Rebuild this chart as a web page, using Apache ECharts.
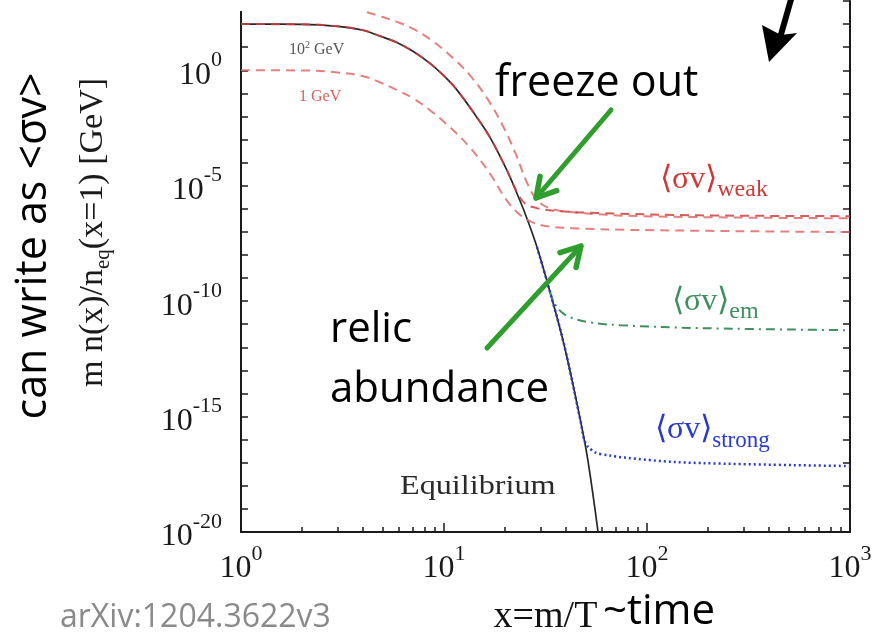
<!DOCTYPE html>
<html><head><meta charset="utf-8">
<script src="https://cdn.jsdelivr.net/npm/echarts@6/dist/echarts.min.js"></script>
<style>html,body{margin:0;padding:0;background:#fff}#c{width:875px;height:636px}</style>
</head><body><div id="c"></div>
<script>
// ---- tick values ----
const xMajorTicks = [1, 10, 100, 1000];
const xMinorTicks = [2,3,4,5,6,7,8,9,20,30,40,50,60,70,80,90,200,300,400,500,600,700,800,900];
const yTicks = [1e-20,1e-19,1e-18,1e-17,1e-16,1e-15,1e-14,1e-13,1e-12,1e-11,1e-10,1e-9,1e-8,1e-7,1e-6,1e-5,1e-4,1e-3,1e-2,1e-1,1,10,100,1000];
const yLabelTicks = [1e-20, 1e-15, 1e-10, 1e-5, 1];

// ---- series values [x, m n(x)/n_eq(x=1)] ----
const equilibrium = [[1,100],[2,98],[3,80],[4,54],[4.84,30],[5.86,16],[7.03,6.6],[8.53,2.0],[10,0.57],[11.6,0.138],[14.5,9.3e-3],[16.9,1.17e-3],[20.4,4.7e-5],[23.6,2.4e-6],[25.6,3.9e-7],[28.7,2.2e-8],[33.2,2.7e-10],[39.3,1.0e-12],[47.3,5.2e-16],[51.2,1.2e-17],[57.4,1e-20]];
const weak1GeV = [[1,1],[2,0.98],[3,0.8],[4,0.55],[4.84,0.3],[5.86,0.14],[7.03,0.062],[8.53,0.0186],[10.7,3.4e-3],[13.4,4.6e-4],[16.9,3.2e-5],[20,2.9e-6],[22.9,7.1e-7],[26.5,2.9e-7],[31.5,1.8e-7],[43.2,1.45e-7],[92.4,1.2e-7],[1000,9.8e-8]];
const weak100GeV = [[1,100],[2,98],[3,80],[4,54],[4.84,30],[5.86,16],[7.03,6.6],[8.53,2.0],[10,0.57],[11.6,0.138],[14.5,9.3e-3],[16.9,1.17e-3],[20.4,4.7e-5],[22.9,5.2e-6],[25.06,1.7e-6],[28.7,1.07e-6],[37.1,7.9e-7],[58.7,6.5e-7],[182,5.2e-7],[1000,4.8e-7]];
const weak1000GeV = [[4.17,324],[4.84,220],[5.86,125],[7.03,63],[8.53,22],[10.3,6.0],[13.4,0.61],[16.9,0.037],[20,2.5e-3],[22.4,2.8e-4],[25.6,1.4e-5],[28.7,2.4e-6],[33.2,1.07e-6],[43.2,7.1e-7],[92.4,4.8e-7],[1000,3.9e-7]];
const emCurve = [[33.2,2.7e-10],[35,8.2e-11],[38,3.3e-11],[41.8,2e-11],[52.4,1.2e-11],[73.6,9.1e-12],[182,6.8e-12],[1000,5.5e-12]];
const strongCurve = [[28.7,2.2e-8],[33.2,2.7e-10],[39.3,1.0e-12],[47.3,5.2e-16],[49.5,7.9e-17],[53.5,3.5e-17],[58.7,2.4e-17],[103.5,1.3e-17],[182,9.7e-18],[1000,7.2e-18]];

const SERIF = 'Liberation Serif';
const SANS = 'Open Sans';
const supRich = {
  b: {fontSize: 32, fontFamily: SERIF, color: '#1a1a1a', lineHeight: 32, verticalAlign: 'bottom'},
  s: {fontSize: 22, fontFamily: SERIF, color: '#1a1a1a', verticalAlign: 'top', padding: [0,0,20,0]}
};
const powFmt = v => '{b|10}{s|' + Math.round(Math.log10(v)) + '}';

const chart = echarts.init(document.getElementById('c'), null, {renderer: 'canvas'});

function arrowHead(tip, tail, len, ang) {
  const a = Math.atan2(tail[1]-tip[1], tail[0]-tip[0]);
  return [[tip[0]+len*Math.cos(a+ang), tip[1]+len*Math.sin(a+ang)], tip, [tip[0]+len*Math.cos(a-ang), tip[1]+len*Math.sin(a-ang)]];
}
const GREEN = '#2f9e2f';
const fTail = [611,110], fTip = [536,198];
const rTail = [487,348], rTip = [581,246];

const axisLineStyle = {color: '#1a1a1a', width: 2};
const tickLineStyle = {color: '#1a1a1a', width: 1.5};
const SM = 0.4;

chart.setOption({
  animation: false,
  backgroundColor: '#ffffff',
  grid: {left: 241, right: 25, top: 1, bottom: 104, containLabel: false, outerBoundsMode: 'none'},
  xAxis: [
    {type: 'log', logBase: 10, min: 1, max: 1000, position: 'bottom',
     axisLine: {show: true, onZero: false, lineStyle: axisLineStyle},
     axisTick: {show: true, inside: true, length: 9, customValues: xMajorTicks, lineStyle: tickLineStyle},
     axisLabel: {show: true, customValues: xMajorTicks, margin: 11, formatter: powFmt, rich: supRich},
     splitLine: {show: false}, minorTick: {show: false},
     name: 'x=m/T', nameLocation: 'middle', nameGap: 66,
     nameTextStyle: {fontFamily: SERIF, fontSize: 38, color: '#111'}},
    {type: 'log', logBase: 10, min: 1, max: 1000, position: 'bottom',
     axisLine: {show: false},
     axisTick: {show: true, inside: true, length: 5, customValues: xMinorTicks, lineStyle: tickLineStyle},
     axisLabel: {show: false}, splitLine: {show: false}}
  ],
  yAxis: [
    {type: 'log', logBase: 10, min: 1e-20, max: 1000, position: 'left',
     axisLine: {show: true, onZero: false, lineStyle: axisLineStyle},
     axisTick: {show: true, inside: true, length: 7, customValues: yTicks, lineStyle: tickLineStyle},
     axisLabel: {show: true, customValues: yLabelTicks, margin: 19, formatter: powFmt, rich: supRich},
     splitLine: {show: false},
     name: '{a|m n(x)/n}{sub|eq}{a|(x=1) [GeV]}', nameLocation: 'middle', nameRotate: 90, nameGap: 127,
     nameTextStyle: {padding: [0,0,0,68], rich: {
       a: {fontFamily: SERIF, fontSize: 34, color: '#1a1a1a', lineHeight: 38, verticalAlign: 'top'},
       sub: {fontFamily: SERIF, fontSize: 21, color: '#1a1a1a', verticalAlign: 'bottom'}
     }}},
    {type: 'log', logBase: 10, min: 1e-20, max: 1000, position: 'right',
     axisLine: {show: true, onZero: false, lineStyle: axisLineStyle},
     axisTick: {show: true, inside: true, length: 7, customValues: yTicks, lineStyle: tickLineStyle},
     axisLabel: {show: false}, splitLine: {show: false}}
  ],
  series: [
    {name: 'Equilibrium', type: 'line', data: equilibrium, showSymbol: false, smooth: SM,
     lineStyle: {color: '#262626', width: 1.7}, z: 2},
    {name: '1 GeV', type: 'line', data: weak1GeV, showSymbol: false, smooth: SM,
     lineStyle: {color: '#df6b68', width: 2, type: [9,6], opacity: 0.85}, z: 3},
    {name: '100 GeV', type: 'line', data: weak100GeV, showSymbol: false, smooth: SM,
     lineStyle: {color: '#cf3f3f', width: 2, type: [9,6], opacity: 0.85}, z: 4},
    {name: '1000 GeV', type: 'line', data: weak1000GeV, showSymbol: false, smooth: SM,
     lineStyle: {color: '#df6b68', width: 2, type: [9,6], opacity: 0.85}, z: 3},
    {name: 'em', type: 'line', data: emCurve, showSymbol: false, smooth: SM,
     lineStyle: {color: '#3f8f5f', width: 2, type: [9,5,2,5]}, z: 3},
    {name: 'strong', type: 'line', data: strongCurve, showSymbol: false, smooth: SM,
     lineStyle: {color: '#2a3acc', width: 2.5, type: [2,3]}, z: 3}
  ],
  graphic: [
    {type: 'rect', shape: {x: 228, y: 0, width: 24, height: 11}, style: {fill: '#ffffff'}, z: 50},
    // curve labels
    {type: 'text', x: 289, y: 49, z: 60, style: {text: '{a|10}{s|2}{a| GeV}', verticalAlign: 'middle', rich: {
      a: {fontFamily: SERIF, fontSize: 16, fill: '#555', lineHeight: 18, verticalAlign: 'bottom'},
      s: {fontFamily: SERIF, fontSize: 10, fill: '#555', verticalAlign: 'top'}}}},
    {type: 'text', x: 299, y: 97, z: 60, style: {text: '1 GeV', fontFamily: SERIF, fontSize: 16, fill: '#d9605a', verticalAlign: 'middle'}},
    {type: 'text', x: 660, y: 183, z: 60, style: {text: '{a|⟨σv⟩}{sub|weak}', verticalAlign: 'middle', rich: {
      a: {fontFamily: SERIF, fontSize: 32, fill: '#cc3b3b', lineHeight: 38, verticalAlign: 'top'},
      sub: {fontFamily: SERIF, fontSize: 24, fill: '#cc3b3b', verticalAlign: 'bottom'}}}},
    {type: 'text', x: 672, y: 305, z: 60, style: {text: '{a|⟨σv⟩}{sub|em}', verticalAlign: 'middle', rich: {
      a: {fontFamily: SERIF, fontSize: 32, fill: '#3f8f5f', lineHeight: 38, verticalAlign: 'top'},
      sub: {fontFamily: SERIF, fontSize: 24, fill: '#3f8f5f', verticalAlign: 'bottom'}}}},
    {type: 'text', x: 655, y: 433, z: 60, style: {text: '{a|⟨σv⟩}{sub|strong}', verticalAlign: 'middle', rich: {
      a: {fontFamily: SERIF, fontSize: 32, fill: '#2a3acc', lineHeight: 38, verticalAlign: 'top'},
      sub: {fontFamily: SERIF, fontSize: 23, fill: '#2a3acc', verticalAlign: 'bottom'}}}},
    {type: 'text', x: 400, y: 487, z: 60, scaleX: 1.15, style: {text: 'Equilibrium', fontFamily: SERIF, fontSize: 28, fill: '#2a2a2a', verticalAlign: 'middle'}},
    // slide annotations
    {type: 'text', x: 495, y: 84, z: 60, style: {text: 'freeze out', fontFamily: SANS, fontSize: 43, fill: '#000', verticalAlign: 'middle'}},
    {type: 'text', x: 330, y: 330, z: 60, style: {text: 'relic', fontFamily: SANS, fontSize: 42, fill: '#000', verticalAlign: 'middle'}},
    {type: 'text', x: 330, y: 390, z: 60, style: {text: 'abundance', fontFamily: SANS, fontSize: 42, fill: '#000', verticalAlign: 'middle'}},
    {type: 'text', x: 34, y: 246, z: 60, rotation: Math.PI/2, style: {text: 'can write as <σv>', fontFamily: SANS, fontSize: 43, fill: '#000', align: 'center', verticalAlign: 'middle'}},
    {type: 'text', x: 60, y: 618, z: 60, style: {text: 'arXiv:1204.3622v3', fontFamily: SANS, fontSize: 32, fill: '#8a8a8a', verticalAlign: 'middle'}},
    {type: 'text', x: 603, y: 612, z: 60, style: {text: '~time', fontFamily: SANS, fontSize: 42, fill: '#000', verticalAlign: 'middle'}},
    // green arrows
    {type: 'line', z: 70, shape: {x1: fTail[0], y1: fTail[1], x2: fTip[0], y2: fTip[1]}, style: {stroke: GREEN, lineWidth: 5, lineCap: 'round'}},
    {type: 'polyline', z: 70, shape: {points: arrowHead(fTip, fTail, 22, 0.52)}, style: {stroke: GREEN, lineWidth: 5.5, lineCap: 'round', lineJoin: 'round', fill: null}},
    {type: 'line', z: 70, shape: {x1: rTail[0], y1: rTail[1], x2: rTip[0], y2: rTip[1]}, style: {stroke: GREEN, lineWidth: 5, lineCap: 'round'}},
    {type: 'polyline', z: 70, shape: {points: arrowHead(rTip, rTail, 22, 0.52)}, style: {stroke: GREEN, lineWidth: 5.5, lineCap: 'round', lineJoin: 'round', fill: null}},
    // black arrow
    {type: 'line', z: 70, shape: {x1: 792, y1: -4, x2: 780, y2: 38}, style: {stroke: '#000', lineWidth: 6}},
    {type: 'polygon', z: 70, shape: {points: [[769,62],[762,25],[781,35],[797,33]]}, style: {fill: '#000'}}
  ]
});
</script>
</body></html>
